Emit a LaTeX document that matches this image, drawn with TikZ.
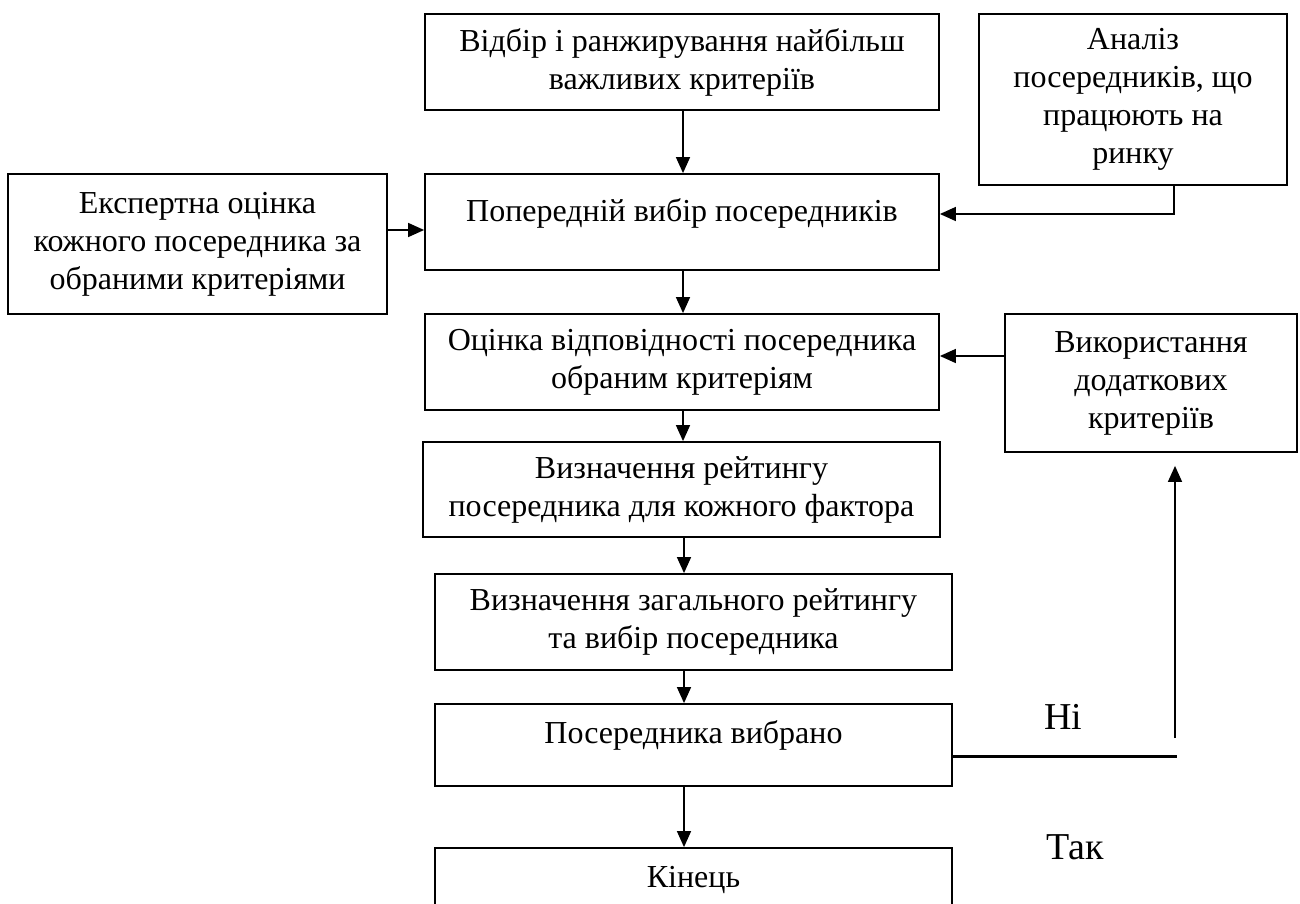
\documentclass[tikz,border=0pt]{standalone}
\usepackage{fontspec}
\setmainfont{Liberation Serif}
\usetikzlibrary{arrows.meta,calc}
\begin{document}
\begin{tikzpicture}[x=0.5pt,y=-0.5pt,
  box/.style={draw,line width=0.9pt,inner sep=0pt,align=center,font=\fontsize{16}{19}\selectfont},
  txt/.style={inner sep=0pt,align=center,font=\fontsize{16}{19}\selectfont},
  lbl/.style={inner sep=0pt,font=\fontsize{19}{23}\selectfont},
  arr/.style={line width=0.75pt,-{Triangle[length=8pt,width=7pt]}}]
\useasboundingbox (0,0) rectangle (1300,904);
\clip (0,0) rectangle (1300,904);
% boxes
\node[box,minimum width=257pt,minimum height=48pt] (n1) at (682,62) {Відбір і ранжирування найбільш\\важливих критеріїв};
\node[box,minimum width=154pt,minimum height=85.5pt] (an) at (1133,99.5) {Аналіз\\посередників, що\\працюють на\\ринку};
\node[box,minimum width=189.5pt,minimum height=70pt] (ex) at (197.5,244) {Експертна оцінка\\кожного посередника за\\обраними критеріями};
\node[box,minimum width=257pt,minimum height=48pt] (pp) at (682,222) {};
\node[txt] (ppt) at (682,213) {Попередній вибір посередників};
\node[box,minimum width=257pt,minimum height=48pt] (oc) at (682,362) {Оцінка відповідності посередника\\обраним критеріям};
\node[box,minimum width=146pt,minimum height=69pt] (vy) at (1151,383) {Використання\\додаткових\\критеріїв};
\node[box,minimum width=258.5pt,minimum height=47.5pt] (vr) at (681.5,489.5) {Визначення рейтингу\\посередника для кожного фактора};
\node[box,minimum width=258.5pt,minimum height=48pt] (vz) at (693.5,622) {Визначення загального рейтингу\\та вибір посередника};
\node[box,minimum width=258.5pt,minimum height=41pt] (pv) at (693.5,745) {};
\node[txt] (pvt) at (693.5,735) {Посередника вибрано};
\node[box,minimum width=258.5pt,minimum height=41pt] (kn) at (693.5,889) {};
\node[txt] (knt) at (693.5,880) {Кінець};
% labels
\node[lbl] (ni) at (1063,717) {Ні};
\node[lbl] (tak) at (1075,847) {Так};
% connectors
\draw[arr] (n1.south -| 683,0) -- (pp.north -| 683,0);
\coordinate (ac) at ($(an.south)+(41,0)$);
\draw[arr] (ac) |- ($(pp.east)+(0,-8)$);
\draw[arr] (ex.east |- 0,230) -- (pp.west |- 0,230);
\draw[arr] (pp.south -| 683,0) -- (oc.north -| 683,0);
\draw[arr] (vy.west |- 0,356) -- (oc.east |- 0,356);
\draw[arr] (oc.south -| 683,0) -- (vr.north -| 683,0);
\draw[arr] (vr.south -| 684,0) -- (vz.north -| 684,0);
\draw[arr] (vz.south -| 684,0) -- (pv.north -| 684,0);
\draw[arr] (pv.south -| 684,0) -- (kn.north -| 684,0);
\coordinate (ne) at ($(pv.east)+(224,11)$);
\draw[line width=1.5pt] ($(pv.east)+(0,11)$) -- (ne);
\coordinate (nb) at (1175,738);
\draw[arr] (nb) -- ($(vy.south -| nb)+(0,13)$);
\end{tikzpicture}
\end{document}
